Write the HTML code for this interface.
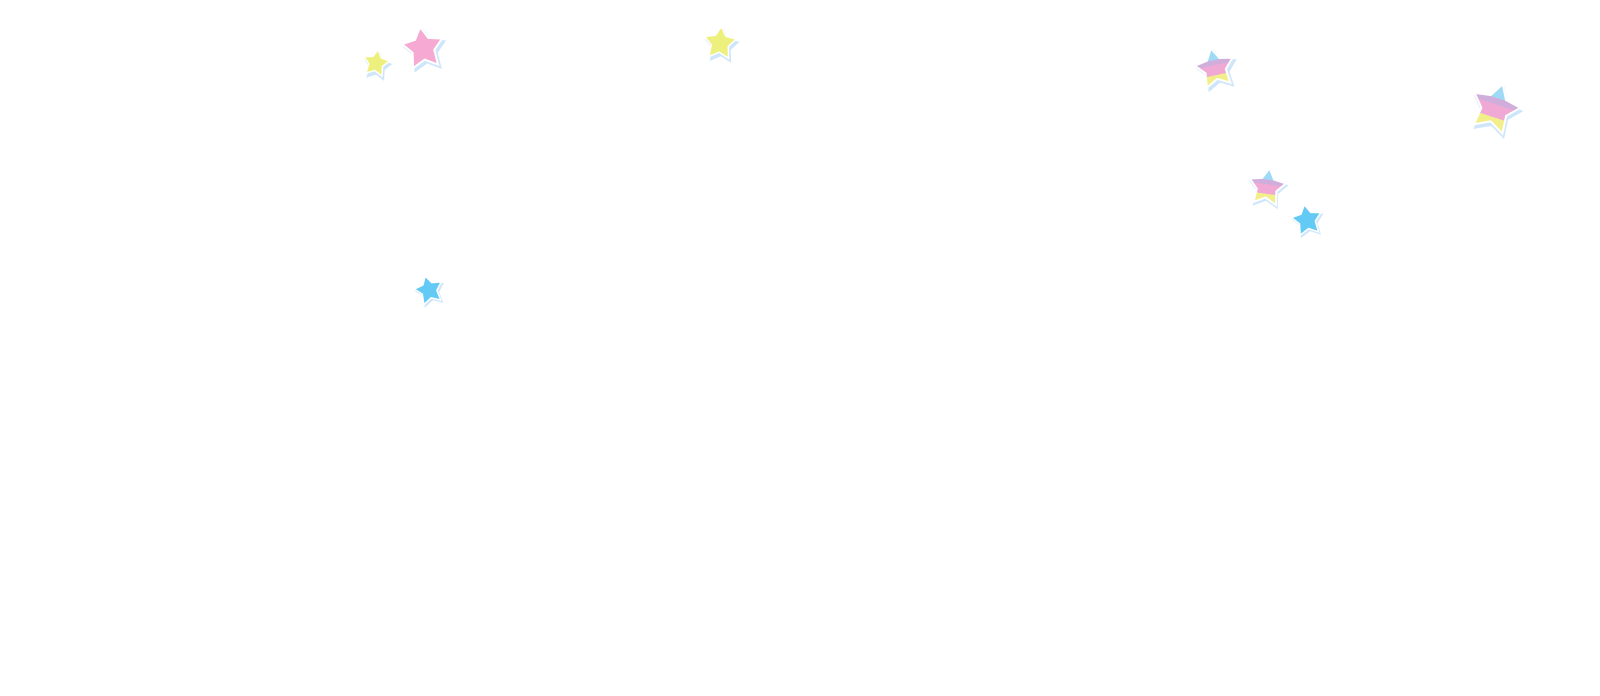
<!DOCTYPE html>
<html><head><meta charset="utf-8"><style>
html,body{margin:0;padding:0;background:#fff;width:1600px;height:696px;overflow:hidden;position:relative}
.s{position:absolute;width:0;height:0}
.s div{position:absolute;clip-path:polygon(50% 0%,66% 28%,98% 34%,76% 58%,80% 94%,50% 78%,20% 94%,24% 58%,2% 34%,34% 28%)}
.y{background:#eef07e}.p{background:#f6a9d2}.b{background:#62caf4}
.r{background:linear-gradient(180deg,#9edaf5 0%,#9edaf5 28%,#cfaedb 28%,#cfaedb 42%,#f0a8d4 42%,#f0a8d4 70%,#f2ef8a 70%)}
</style></head><body>
<div class="s" style="left:376px;top:63px;transform:rotate(10deg)">
<div style="left:-13px;top:-12px;width:30px;height:30px;background:#cfe6fa"></div>
<div style="left:-15px;top:-15px;width:30px;height:30px;background:#fff"></div>
<div class="y" style="left:-12px;top:-12px;width:24px;height:24px"></div></div>

<div class="s" style="left:423px;top:48px;transform:rotate(-8deg)">
<div style="left:-21px;top:-20px;width:46px;height:46px;background:#cfe6fa"></div>
<div style="left:-23px;top:-23px;width:46px;height:46px;background:#fff"></div>
<div class="p" style="left:-19px;top:-19px;width:38px;height:38px"></div></div>

<div class="s" style="left:720px;top:43px;transform:rotate(5deg)">
<div style="left:-16px;top:-15px;width:36px;height:36px;background:#cfe6fa"></div>
<div style="left:-18px;top:-18px;width:36px;height:36px;background:#fff"></div>
<div class="y" style="left:-15px;top:-15px;width:30px;height:30px"></div></div>

<div class="s" style="left:1215px;top:68px;transform:rotate(-12deg)">
<div style="left:-20px;top:-19px;width:44px;height:44px;background:#cfe6fa"></div>
<div style="left:-22px;top:-22px;width:44px;height:44px;background:#fff"></div>
<div class="r" style="left:-18px;top:-18px;width:36px;height:36px"></div></div>

<div class="s" style="left:1495px;top:108px;transform:rotate(18deg)">
<div style="left:-25px;top:-24px;width:54px;height:54px;background:#cfe6fa"></div>
<div style="left:-27px;top:-27px;width:54px;height:54px;background:#fff"></div>
<div class="r" style="left:-23px;top:-23px;width:46px;height:46px"></div></div>

<div class="s" style="left:1267px;top:187px;transform:rotate(8deg)">
<div style="left:-20px;top:-19px;width:42px;height:42px;background:#cfe6fa"></div>
<div style="left:-21px;top:-21px;width:42px;height:42px;background:#fff"></div>
<div class="r" style="left:-17px;top:-17px;width:34px;height:34px"></div></div>

<div class="s" style="left:1307px;top:220px;transform:rotate(-10deg)">
<div style="left:-16px;top:-15px;width:34px;height:34px;background:#cfe6fa"></div>
<div style="left:-17px;top:-17px;width:34px;height:34px;background:#fff"></div>
<div class="b" style="left:-14px;top:-14px;width:28px;height:28px"></div></div>

<div class="s" style="left:429px;top:290px;transform:rotate(-15deg)">
<div style="left:-15px;top:-14px;width:32px;height:32px;background:#cfe6fa"></div>
<div style="left:-16px;top:-16px;width:32px;height:32px;background:#fff"></div>
<div class="b" style="left:-13px;top:-13px;width:26px;height:26px"></div></div>
</body></html>
